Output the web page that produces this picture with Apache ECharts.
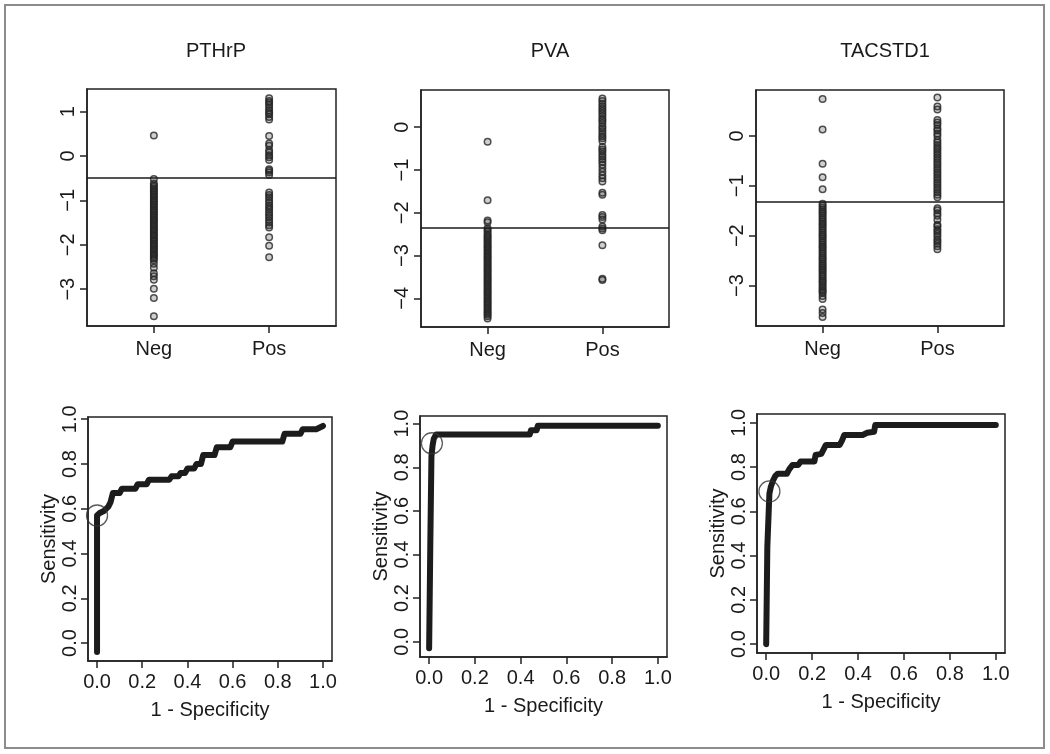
<!DOCTYPE html>
<html>
<head>
<meta charset="utf-8">
<script src="https://cdn.jsdelivr.net/npm/echarts@6/dist/echarts.min.js"></script>
<style>html,body{margin:0;padding:0;background:#fff}#c{width:1050px;height:754px}</style>
</head>
<body>
<div id="c"></div>
<script>
// ---------- data ----------
const markers = ['PTHrP', 'PVA', 'TACSTD1'];
const groupLabels = ['Neg', 'Pos'];

const pthrpNeg = [0.46, -0.52,
  -0.62,-0.66,-0.69,-0.73,-0.77,-0.80,-0.84,-0.88,-0.91,-0.95,-0.99,-1.02,-1.06,-1.10,-1.13,-1.17,-1.21,-1.24,-1.28,-1.32,-1.35,-1.39,-1.43,-1.46,-1.50,-1.54,-1.57,-1.61,-1.65,-1.68,-1.72,-1.76,-1.79,-1.83,-1.87,-1.90,-1.94,-1.98,-2.01,-2.05,-2.09,-2.12,-2.16,-2.20,-2.23,-2.27,-2.31,-2.35,
  -2.43,-2.52,-2.64,-2.71,-2.79,-2.99,-3.20,-3.61];
const pthrpPos = [1.30,1.24,1.20,1.15,1.09,1.03,0.98,0.94,0.88,0.82,0.45,0.28,0.23,0.13,0.08,0.02,-0.03,-0.09,
  -0.30,-0.33,-0.37,-0.43,-0.82,-0.88,-0.93,-0.99,-1.05,-1.11,-1.16,-1.21,-1.27,-1.33,-1.38,-1.44,-1.50,-1.56,-1.61,-1.83,-2.02,-2.28];
const pthrpCut = -0.49;

const pvaNeg = [-0.34, -1.71, -2.18, -2.22, -2.36, -2.40, -2.45,
  -2.50,-2.54,-2.58,-2.62,-2.66,-2.70,-2.74,-2.78,-2.82,-2.86,-2.90,-2.94,-2.98,-3.02,-3.06,-3.10,-3.14,-3.18,-3.22,-3.26,-3.30,-3.34,-3.38,-3.42,-3.46,-3.50,-3.54,-3.58,-3.62,-3.66,-3.70,-3.74,-3.78,-3.82,-3.86,-3.90,-3.94,-3.98,-4.02,-4.06,-4.10,-4.14,-4.18,-4.22,-4.26,-4.30,-4.34,-4.38,-4.42,-4.47];
const pvaPos = [0.67,0.61,0.55,0.49,0.43,0.38,0.32,0.26,0.20,0.15,0.09,0.02,-0.03,-0.09,-0.15,-0.21,-0.26,-0.32,
  -0.46,-0.52,-0.57,-0.63,-0.69,-0.75,-0.81,-0.88,-0.96,-1.04,-1.12,-1.19,-1.27,-1.53,-1.58,-2.05,-2.10,-2.16,-2.32,-2.37,-2.41,-2.76,-3.54,-3.57];
const pvaCut = -2.35;

const tacNeg = [0.74, 0.13, -0.56, -0.83, -1.07,
  -1.36,-1.40,-1.44,-1.48,-1.52,-1.55,-1.59,-1.63,-1.67,-1.71,-1.75,-1.78,-1.82,-1.86,-1.90,-1.94,-1.98,-2.01,-2.05,-2.09,-2.13,-2.17,-2.21,-2.24,-2.28,-2.32,-2.36,-2.40,-2.44,-2.47,-2.51,-2.55,-2.59,-2.63,-2.67,-2.70,-2.74,-2.78,-2.82,-2.86,-2.90,-2.93,-2.97,-3.01,-3.05,-3.09,-3.12,-3.15,
  -3.21,-3.27,-3.48,-3.55,-3.63];
const tacPos = [0.77,0.59,0.53,0.32,0.27,0.22,0.15,0.11,0.05,0.00,-0.08,-0.13,-0.18,-0.23,-0.28,-0.33,-0.38,-0.43,-0.48,-0.53,-0.58,-0.63,-0.68,-0.73,-0.78,-0.83,-0.88,-0.93,-0.98,-1.03,-1.08,-1.13,-1.18,-1.23,
  -1.45,-1.49,-1.55,-1.60,-1.68,-1.78,-1.81,-1.87,-1.91,-1.96,-2.01,-2.07,-2.11,-2.16,-2.21,-2.27];
const tacCut = -1.32;

const stripTicks = [[-3,-2,-1,0,1], [-4,-3,-2,-1,0], [-3,-2,-1,0]];
const stripRange = [[-3.83, 1.51], [-4.67, 0.87], [-3.81, 0.92]];

// ROC curves (1 - specificity, sensitivity)
const roc1X = [0,0,0.01,0.03,0.05,0.06,0.07,0.10,0.11,0.17,0.18,0.22,0.23,0.32,0.33,0.36,0.37,0.39,0.40,0.43,0.44,0.46,0.47,0.52,0.53,0.59,0.60,0.82,0.83,0.90,0.91,0.97,1.0];
const roc1Y = [-0.04,0.57,0.58,0.59,0.61,0.63,0.67,0.67,0.69,0.69,0.71,0.71,0.73,0.73,0.745,0.745,0.76,0.76,0.78,0.78,0.80,0.80,0.84,0.84,0.875,0.875,0.90,0.90,0.935,0.935,0.955,0.955,0.97];
const roc1Opt = [0.0, 0.57];

const roc2X = [0,0.005,0.01,0.015,0.02,0.03,0.44,0.445,0.47,0.475,1.0];
const roc2Y = [-0.03,0.44,0.85,0.90,0.93,0.95,0.95,0.97,0.97,0.99,0.99];
const roc2Opt = [0.012, 0.91];

const roc3X = [0,0.005,0.014,0.02,0.03,0.04,0.05,0.09,0.10,0.115,0.14,0.15,0.21,0.215,0.24,0.25,0.26,0.32,0.33,0.34,0.42,0.44,0.47,0.475,1.0];
const roc3Y = [0,0.44,0.68,0.71,0.74,0.76,0.77,0.77,0.79,0.81,0.81,0.825,0.825,0.855,0.86,0.88,0.90,0.90,0.92,0.945,0.945,0.955,0.96,0.99,0.99];
const roc3Opt = [0.014, 0.69];

const rocTicks = [0, 0.2, 0.4, 0.6, 0.8, 1.0];
const rocYRange = [[-0.08, 1.01], [-0.07, 1.035], [-0.04, 1.04]];

// ---------- layout ----------
const FONT = "'Liberation Sans', Arial, sans-serif";
const TXT = '#1a1a1a';
const topGrids = [
  {left: 87, top: 89, width: 249, height: 237},
  {left: 421, top: 90, width: 248, height: 237},
  {left: 756, top: 90, width: 248, height: 236}
];
const botGrids = [
  {left: 88, top: 417, width: 244, height: 244},
  {left: 420, top: 416, width: 247, height: 241},
  {left: 757, top: 414, width: 248, height: 239}
];
const titleX = [211, 545, 880];

const grids = [], xAxes = [], yAxes = [], series = [], titles = [];
const fmtMinus = v => (v < 0 ? '\u2212' + Math.abs(v) : String(v));

const stripData = [[pthrpNeg, pthrpPos, pthrpCut], [pvaNeg, pvaPos, pvaCut], [tacNeg, tacPos, tacCut]];
const rocData = [[roc1X, roc1Y, roc1Opt], [roc2X, roc2Y, roc2Opt], [roc3X, roc3Y, roc3Opt]];

const gridStyle = {show: true, borderColor: '#222', borderWidth: 1.5, backgroundColor: 'transparent'};
const tickStyle = {color: '#222', width: 1.5};
const TICKLEN = 7;
const axLine = {show: true, onZero: false, lineStyle: {color: '#222', width: 1.5}};

for (let i = 0; i < 3; i++) {
  titles.push({text: markers[i], left: titleX[i], top: 36, textAlign: 'center',
    textStyle: {fontFamily: FONT, fontSize: 20, fontWeight: 'normal', color: TXT}});
  grids.push(Object.assign({}, topGrids[i], gridStyle));
  const gi = grids.length - 1;
  xAxes.push({gridIndex: gi, type: 'value', position: 'bottom', min: 0.42, max: 2.58,
    axisLine: axLine, splitLine: {show: false},
    axisTick: {show: true, inside: false, customValues: [1, 2], length: TICKLEN, lineStyle: tickStyle},
    axisLabel: {customValues: [1, 2], margin: 13, formatter: v => groupLabels[Math.round(v) - 1],
      fontFamily: FONT, fontSize: 20, color: TXT}});
  yAxes.push({gridIndex: gi, type: 'value', position: 'left', min: stripRange[i][0], max: stripRange[i][1],
    axisLine: axLine, splitLine: {show: false},
    axisTick: {show: true, inside: false, customValues: stripTicks[i], length: TICKLEN, lineStyle: tickStyle},
    axisLabel: {customValues: stripTicks[i], rotate: 90, margin: 9, formatter: fmtMinus,
      fontFamily: FONT, fontSize: 20, color: TXT}});
  const [neg, pos, cut] = stripData[i];
  const dotStyle = {color: 'rgba(40,40,40,0.28)', borderColor: '#262626', borderWidth: 1.5};
  series.push({type: 'scatter', xAxisIndex: gi, yAxisIndex: gi, symbol: 'circle', symbolSize: 6.5,
    data: neg.map(v => [1, v]), itemStyle: dotStyle, silent: true,
    markLine: {silent: true, symbol: ['none', 'none'], label: {show: false},
      lineStyle: {color: '#1a1a1a', width: 1.6, type: 'solid'}, data: [{yAxis: cut}]}});
  series.push({type: 'scatter', xAxisIndex: gi, yAxisIndex: gi, symbol: 'circle', symbolSize: 6.5,
    data: pos.map(v => [2, v]), itemStyle: dotStyle, silent: true});
}

for (let i = 0; i < 3; i++) {
  grids.push(Object.assign({}, botGrids[i], gridStyle));
  const gi = grids.length - 1;
  xAxes.push({gridIndex: gi, type: 'value', position: 'bottom', min: -0.04, max: 1.04,
    axisLine: axLine, splitLine: {show: false},
    name: '1 - Specificity', nameLocation: 'middle', nameGap: 39,
    nameTextStyle: {fontFamily: FONT, fontSize: 20, color: TXT},
    axisTick: {show: true, inside: false, customValues: rocTicks, length: TICKLEN, lineStyle: tickStyle},
    axisLabel: {customValues: rocTicks, margin: 11, formatter: v => v.toFixed(1),
      fontFamily: FONT, fontSize: 20, color: TXT}});
  yAxes.push({gridIndex: gi, type: 'value', position: 'left', min: rocYRange[i][0], max: rocYRange[i][1],
    axisLine: axLine, splitLine: {show: false},
    name: 'Sensitivity', nameLocation: 'middle', nameGap: 29, nameRotate: 90,
    nameTextStyle: {fontFamily: FONT, fontSize: 20, color: TXT},
    axisTick: {show: true, inside: false, customValues: rocTicks, length: TICKLEN, lineStyle: tickStyle},
    axisLabel: {customValues: rocTicks, rotate: 90, margin: 8, formatter: v => v.toFixed(1),
      fontFamily: FONT, fontSize: 20, color: TXT}});
  const [xs, ys, opt] = rocData[i];
  series.push({type: 'line', xAxisIndex: gi, yAxisIndex: gi, showSymbol: false, silent: true,
    data: xs.map((x, k) => [x, ys[k]]),
    lineStyle: {color: '#1c1c1c', width: 6, cap: 'round', join: 'round'}});
  series.push({type: 'scatter', xAxisIndex: gi, yAxisIndex: gi, symbol: 'circle', symbolSize: 21, silent: true,
    data: [opt], z: 5,
    itemStyle: {color: 'rgba(255,255,255,0)', borderColor: '#333', borderWidth: 1.3}});
}

const chart = echarts.init(document.getElementById('c'), null, {renderer: 'canvas'});
chart.setOption({
  animation: false,
  backgroundColor: '#fff',
  title: titles,
  grid: grids,
  xAxis: xAxes,
  yAxis: yAxes,
  series: series,
  graphic: [{type: 'rect', shape: {x: 5, y: 5, width: 1039, height: 743},
    style: {fill: 'none', stroke: '#8c8c8c', lineWidth: 2}, silent: true}]
});
</script>
</body>
</html>
